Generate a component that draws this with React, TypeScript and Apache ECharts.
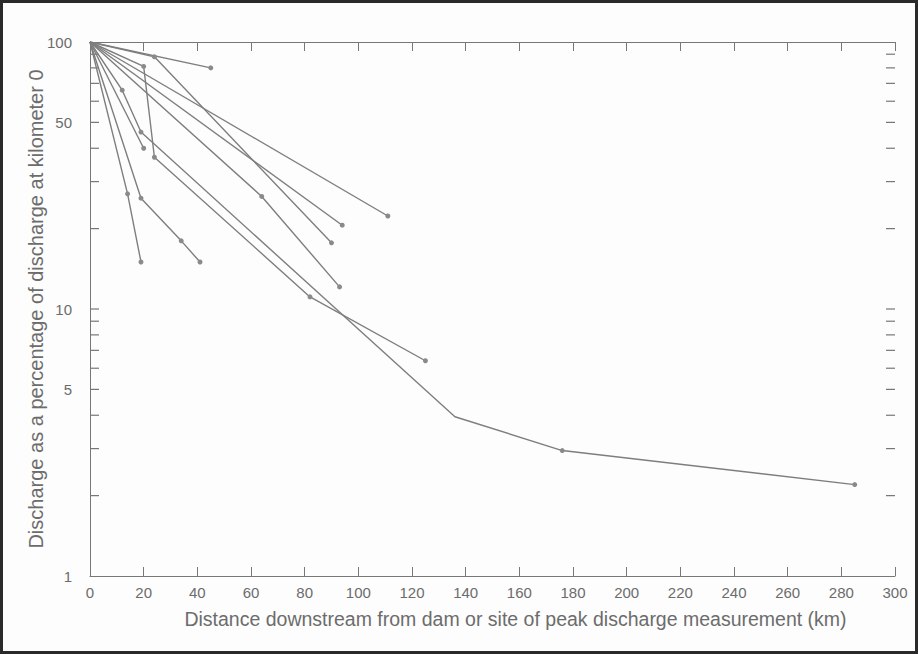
import React, { useEffect, useRef } from "react";
import * as echarts from "echarts";

// Axis ranges and tick values
const xMin = 0;
const xMax = 300;
const xInterval = 20;
const yMin = 1;
const yMax = 100;
const yLabelValues = [1, 5, 10, 50, 100];
const yTickValues = [2, 3, 4, 5, 6, 7, 8, 9, 10, 20, 30, 40, 50, 60, 70, 80, 90];

// Each dam-failure flood: [distance km, % of discharge at km 0]
const flood1 = [[0, 100], [45, 80]];
const flood2 = [[0, 100], [24, 88], [90, 17.7]];
const flood3 = [[0, 100], [111, 22.3]];
const flood4 = [[0, 100], [94, 20.6]];
const flood5 = [[0, 100], [64, 26.4], [93, 12.1]];
const flood6 = [[0, 100], [20, 81], [24, 37], [82, 11.1], [125, 6.4]];
const flood7 = [[0, 100], [12, 66], [19, 46], [136, 3.95], [176, 2.95], [285, 2.2]];
const flood8 = [[0, 100], [14, 27], [19, 15]];
const flood9 = [[0, 100], [19, 26], [34, 18], [41, 15]];
const flood10 = [[0, 100], [20, 40]];

// points drawn without a dot (series index -> data indices)
const floods = [flood1, flood2, flood3, flood4, flood5, flood6, flood7, flood8, flood9, flood10];
const undotted: Record<number, number[]> = { 6: [3] };

const xTitle = "Distance downstream from dam or site of peak discharge measurement (km)";
const yTitle = "Discharge as a percentage of discharge at kilometer 0";

const FONT = '"Liberation Sans", Arial, sans-serif';
const TEXT = "#6c6c6c";
const FRAME = "#777777";
const LINE = "#7e7e7e";

export default function App() {
  const ref = useRef<HTMLDivElement>(null);
  useEffect(() => {
    if (!ref.current) return;
    const chart = echarts.init(ref.current, undefined, { renderer: "svg" });

    const lineSeries = floods.map((f, si) => ({
      type: "line",
      data: f.map((p, i) => ({
        value: p,
        symbol: i === 0 || (undotted[si] || []).includes(i) ? "none" : "circle",
      })),
      symbolSize: 5,
      showSymbol: true,
      showAllSymbol: true,
      itemStyle: { color: "#8a8a8a" },
      lineStyle: { color: LINE, width: 1.4 },
      silent: true,
      z: 3,
    }));

    const tickLen = 9;
    const makeTicks = (atX: number, dir: number) => ({
      type: "custom",
      clip: false,
      silent: true,
      data: yTickValues.map((v) => [atX, v]),
      renderItem: (_p: any, api: any) => {
        const p = api.coord([api.value(0), api.value(1)]);
        const x = dir > 0 ? p[0] : p[0] - tickLen;
        return {
          type: "rect",
          shape: { x, y: p[1] - 0.6, width: tickLen, height: 1.2 },
          style: { fill: FRAME },
        };
      },
    });

    const labelSeries = {
      type: "custom",
      clip: false,
      silent: true,
      data: yLabelValues.map((v) => [xMin, v]),
      renderItem: (_p: any, api: any) => {
        const v = api.value(1);
        const pt = api.coord([xMin, v]);
        return {
          type: "text",
          x: pt[0] - 18,
          y: pt[1],
          style: { text: String(v), align: "right", verticalAlign: "middle", fill: TEXT, fontSize: 15, fontFamily: FONT },
        };
      },
    };

    chart.setOption({
      animation: false,
      backgroundColor: "#fdfdfd",
      grid: { left: 90, right: 23, top: 42, bottom: 78, containLabel: false },
      xAxis: [
        {
          type: "value",
          min: xMin,
          max: xMax,
          interval: xInterval,
          position: "bottom",
          axisLine: { lineStyle: { color: FRAME, width: 1 } },
          axisTick: { inside: true, length: tickLen, lineStyle: { color: FRAME } },
          axisLabel: { color: TEXT, fontSize: 15, fontFamily: FONT, margin: 9 },
          splitLine: { show: false },
          name: xTitle,
          nameLocation: "middle",
          nameGap: 33,
          nameTextStyle: { color: TEXT, fontSize: 19.5, fontFamily: FONT, padding: [0, 0, 0, 46] },
        },
        {
          type: "value",
          min: xMin,
          max: xMax,
          interval: xInterval,
          position: "top",
          axisLine: { lineStyle: { color: FRAME, width: 1 } },
          axisTick: { inside: true, length: tickLen, lineStyle: { color: FRAME } },
          axisLabel: { show: false },
          splitLine: { show: false },
        },
      ],
      yAxis: [
        {
          type: "log",
          logBase: 10,
          min: yMin,
          max: yMax,
          position: "left",
          axisLine: { show: true, lineStyle: { color: FRAME, width: 1 } },
          axisTick: { show: false },
          axisLabel: { show: false },
          splitLine: { show: false },
          minorTick: { show: false },
          name: yTitle,
          nameLocation: "middle",
          nameGap: 44,
          nameRotate: 90,
          nameTextStyle: { color: TEXT, fontSize: 20, fontFamily: FONT },
        },
        {
          type: "log",
          logBase: 10,
          min: yMin,
          max: yMax,
          position: "right",
          axisLine: { show: true, lineStyle: { color: FRAME, width: 1 } },
          axisTick: { show: false },
          axisLabel: { show: false },
          splitLine: { show: false },
        },
      ],
      graphic: [
        {
          type: "rect",
          shape: { x: 1.5, y: 1.5, width: 915, height: 651 },
          style: { fill: "none", stroke: "#2a2a2a", lineWidth: 3 },
          silent: true,
        },
      ],
      series: [...lineSeries, makeTicks(xMin, 1), makeTicks(xMax, -1), labelSeries],
    });

    return () => chart.dispose();
  }, []);

  return (
    <div
      ref={ref}
      style={{ position: "fixed", left: 0, top: 0, width: 918, height: 654 }}
    />
  );
}
